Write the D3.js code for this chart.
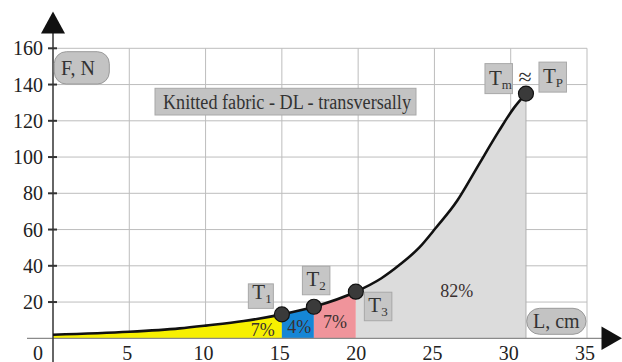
<!DOCTYPE html>
<html><head><meta charset="utf-8">
<script src="https://cdn.jsdelivr.net/npm/d3@7/dist/d3.min.js"></script>
<style>html,body{margin:0;padding:0;background:#fff}svg{display:block}</style>
</head><body>
<svg id="c" width="622" height="362" font-family="serif"></svg>
<script>
// ---- data ----
const lengthCm = [0, 5, 8.3, 10, 12.5, 15.0, 17.1, 19.85, 21.5, 22.7, 24, 25.1, 26.5, 27.4, 28.2, 29.2, 30.2, 31.0];
const forceN   = [2, 3.6, 5.5, 7, 9.5, 13.2, 17.4, 25.7, 33, 40.4, 50, 61, 76, 88.5, 100, 114, 127, 135];
const pointNames = ["T1", "T2", "T3", "Tm"];
const pointL = [15.0, 17.1, 19.85, 31.0];
const pointF = [13.2, 17.4, 25.7, 135];
const zoneStart = [0, 15.0, 17.1, 19.85];
const zoneEnd   = [15.0, 17.1, 19.85, 31.0];
const zoneShare = ["7%", "4%", "7%", "82%"];
const xTicks = [5, 10, 15, 20, 25, 30, 35];
const yTicks = [20, 40, 60, 80, 100, 120, 140, 160];
const title = "Knitted fabric - DL - transversally";

// ---- layout ----
const FONT = "serif";
const svg = d3.select("#c");
const x = d3.scaleLinear().domain([0, 35]).range([53, 587]);
const y = d3.scaleLinear().domain([0, 160]).range([338.3, 48.3]);
const zoneFill = ["#f7f000", "#1586d6", "#f0949b", "#dcdcdc"];
const data = lengthCm.map((l, i) => ({l, f: forceN[i]}));

// grid
const g = svg.append("g");
g.selectAll(".hg").data(yTicks).join("line")
  .attr("x1", x(0)).attr("x2", x(35)).attr("y1", d => y(d)).attr("y2", d => y(d))
  .attr("stroke", "#bdbdbd").attr("stroke-width", 1);
g.selectAll(".vg").data(xTicks).join("line")
  .attr("x1", d => x(d)).attr("x2", d => x(d)).attr("y1", y(0)).attr("y2", y(160))
  .attr("stroke", "#bdbdbd").attr("stroke-width", 1);

// areas
const curve = d3.curveMonotoneX;
const area = d3.area().x(d => x(d.l)).y0(y(0)).y1(d => y(d.f)).curve(curve);
const defs = svg.append("defs");
zoneStart.forEach((s, i) => {
  defs.append("clipPath").attr("id", "z" + i).append("rect")
    .attr("x", x(s)).attr("width", x(zoneEnd[i]) - x(s))
    .attr("y", 0).attr("height", y(0));
  svg.append("path").datum(data).attr("d", area)
    .attr("fill", zoneFill[i]).attr("clip-path", `url(#z${i})`);
});
svg.append("line").attr("x1", x(31)).attr("x2", x(31)).attr("y1", y(135)).attr("y2", y(0))
  .attr("stroke", "#b0b0b0").attr("stroke-width", 1);

// axes
svg.append("line").attr("x1", 27).attr("x2", 604).attr("y1", y(0)).attr("y2", y(0))
  .attr("stroke", "#8a8a8a").attr("stroke-width", 1.2);
svg.append("line").attr("x1", x(0)).attr("x2", x(0)).attr("y1", 20).attr("y2", 362)
  .attr("stroke", "#333").attr("stroke-width", 1.5);
svg.append("path").attr("d", `M${x(0)-12},33.5 L${x(0)},11.5 L${x(0)+12},33.5 Z`).attr("fill", "#111");
svg.append("path").attr("d", `M601.5,326.5 L622,338.3 L601.5,350 Z`).attr("fill", "#111");

svg.selectAll(".yt").data(yTicks).join("line")
  .attr("x1", x(0) - 5).attr("x2", x(0) + 4).attr("y1", d => y(d)).attr("y2", d => y(d))
  .attr("stroke", "#333").attr("stroke-width", 2);
svg.selectAll(".yl").data(yTicks).join("text")
  .attr("x", 43).attr("y", d => y(d) + 7).attr("text-anchor", "end").attr("font-family", FONT)
  .attr("font-size", 20).attr("fill", "#222").text(d => d);
svg.selectAll(".xl").data(xTicks).join("text")
  .attr("x", d => x(d) - 2).attr("y", 359.5).attr("text-anchor", "middle").attr("font-family", FONT)
  .attr("font-size", 20).attr("fill", "#222").text(d => d);
svg.append("text").attr("x", 38).attr("y", 359.5).attr("text-anchor", "middle").attr("font-family", FONT)
  .attr("font-size", 20).attr("fill", "#222").text("0");

// curve
const line = d3.line().x(d => x(d.l)).y(d => y(d.f)).curve(curve);
svg.append("path").datum(data).attr("d", line).attr("fill", "none")
  .attr("stroke", "#111").attr("stroke-width", 2.6);

// zone labels
const labelPos = [[262.7, 336], [299.3, 333], [335, 328], [456.7, 296.5]];
zoneShare.forEach((s, i) => {
  svg.append("text").attr("x", labelPos[i][0]).attr("y", labelPos[i][1]).attr("font-family", FONT)
    .attr("text-anchor", "middle").attr("font-size", 18).attr("fill", "#3a3030").text(s);
});

// points
svg.selectAll(".pt").data(pointL).join("circle")
  .attr("cx", d => x(d)).attr("cy", (d, i) => y(pointF[i])).attr("r", 7.5)
  .attr("fill", "#3a3a3a").attr("stroke", "#111").attr("stroke-width", 1.2);

// T boxes
function tBox(bx, by, bw, bh, main, sub) {
  svg.append("rect").attr("x", bx).attr("y", by).attr("width", bw).attr("height", bh)
    .attr("fill", "#c6c6c6").attr("stroke", "#a8a8a8").attr("stroke-width", 1);
  const t = svg.append("text").attr("x", bx + 4).attr("y", by + bh - 9).attr("font-family", FONT)
    .attr("font-size", 21).attr("fill", "#333");
  t.append("tspan").text(main);
  t.append("tspan").attr("font-size", 13).attr("dy", 4).text(sub);
}
const px = pointL.map(x), py = pointF.map(y);
tBox(px[0] - 33.5, py[0] - 30.5, 25, 24.5, "T", "1");
tBox(px[1] - 11.5, py[1] - 40.5, 27.5, 28.5, "T", "2");
tBox(px[2] + 8.5, py[2] + 0.5, 27.5, 28.5, "T", "3");
tBox(px[3] - 41, py[3] - 30, 27.5, 30, "T", "m");
tBox(px[3] + 13, py[3] - 31.5, 27.5, 30, "T", "P");
svg.append("text").attr("x", px[3] - 1).attr("y", py[3] - 9).attr("text-anchor", "middle").attr("font-family", FONT)
  .attr("font-size", 24).attr("fill", "#333").text("≈");

// title box
svg.append("rect").attr("x", 155).attr("y", 88.3).attr("width", 261).attr("height", 26.7)
  .attr("fill", "#c3c3c3").attr("stroke", "#a8a8a8");
svg.append("text").attr("x", 163).attr("y", 108.5).attr("font-size", 20).attr("fill", "#333").attr("font-family", FONT)
  .attr("textLength", 248).attr("lengthAdjust", "spacingAndGlyphs").text(title);

// axis name pills
svg.append("rect").attr("x", 54.3).attr("y", 51.7).attr("width", 55).attr("height", 32.3).attr("rx", 12)
  .attr("fill", "#c3c3c3").attr("stroke", "#999");
svg.append("text").attr("x", 61).attr("y", 75).attr("font-size", 20).attr("fill", "#333").attr("font-family", FONT).text("F, N");
svg.append("rect").attr("x", 526.7).attr("y", 308.3).attr("width", 59.3).attr("height", 26).attr("rx", 13)
  .attr("fill", "#c3c3c3").attr("stroke", "#999");
svg.append("text").attr("x", 556.3).attr("y", 328).attr("text-anchor", "middle").attr("font-size", 20).attr("fill", "#333").attr("font-family", FONT).text("L, cm");
</script>
</body></html>
